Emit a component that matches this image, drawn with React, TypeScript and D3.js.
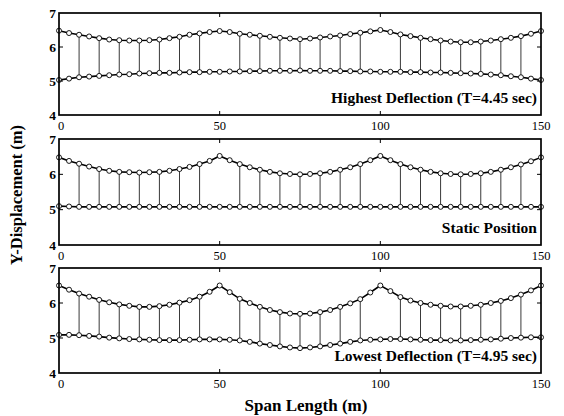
import React from "react";
import * as d3 from "d3";

// Span positions: every 3.125 m from 0 to 150 (49 nodes)
const spanStep = 3.125;
const nodeCount = 49;
const xTicks = [0, 50, 100, 150];
const yTicks = [4, 5, 6, 7];
const hangerIdx = [2, 4, 6, 8, 10, 12, 14, 18, 20, 22, 24, 26, 28, 30, 34, 36, 38, 40, 42, 44, 46];

const highCable = [6.48, 6.41, 6.36, 6.31, 6.26, 6.22, 6.20, 6.19, 6.19, 6.20, 6.22, 6.26, 6.30, 6.36, 6.40, 6.44, 6.47,
  6.44, 6.39, 6.36, 6.33, 6.30, 6.27, 6.25, 6.23, 6.25, 6.28, 6.31, 6.34, 6.38, 6.42, 6.46, 6.50,
  6.44, 6.37, 6.32, 6.27, 6.23, 6.19, 6.16, 6.14, 6.14, 6.16, 6.19, 6.23, 6.27, 6.32, 6.39, 6.47];
const highDeck = [5.03, 5.07, 5.11, 5.13, 5.15, 5.17, 5.19, 5.20, 5.22, 5.23, 5.24, 5.24, 5.25, 5.26, 5.26, 5.27, 5.27,
  5.28, 5.28, 5.29, 5.29, 5.30, 5.30, 5.30, 5.31, 5.30, 5.30, 5.30, 5.29, 5.29, 5.28, 5.28, 5.27,
  5.27, 5.27, 5.26, 5.26, 5.25, 5.25, 5.24, 5.23, 5.22, 5.21, 5.19, 5.17, 5.14, 5.11, 5.07, 5.03];

const staticCable = [6.48, 6.38, 6.30, 6.22, 6.15, 6.10, 6.07, 6.06, 6.05, 6.06, 6.07, 6.10, 6.15, 6.21, 6.29, 6.38, 6.52,
  6.40, 6.29, 6.20, 6.13, 6.07, 6.03, 6.01, 6.00, 6.01, 6.03, 6.07, 6.13, 6.20, 6.29, 6.40, 6.52,
  6.40, 6.29, 6.20, 6.13, 6.07, 6.03, 6.01, 6.00, 6.01, 6.03, 6.07, 6.13, 6.20, 6.28, 6.37, 6.48];
const staticDeck = [5.10, 5.09, 5.08, 5.08, 5.08, 5.08, 5.08, 5.08, 5.08, 5.08, 5.08, 5.08, 5.08, 5.08, 5.08, 5.08, 5.08,
  5.08, 5.08, 5.08, 5.08, 5.08, 5.08, 5.08, 5.08, 5.08, 5.08, 5.08, 5.08, 5.08, 5.08, 5.08, 5.08,
  5.08, 5.08, 5.08, 5.08, 5.08, 5.08, 5.08, 5.08, 5.08, 5.08, 5.08, 5.08, 5.08, 5.08, 5.08, 5.08];

const lowCable = [6.50, 6.38, 6.27, 6.18, 6.09, 6.02, 5.96, 5.92, 5.89, 5.89, 5.91, 5.95, 6.01, 6.08, 6.18, 6.32, 6.50,
  6.31, 6.12, 6.00, 5.89, 5.80, 5.74, 5.70, 5.69, 5.70, 5.74, 5.80, 5.89, 5.99, 6.11, 6.30, 6.50,
  6.34, 6.17, 6.07, 6.00, 5.95, 5.92, 5.90, 5.90, 5.92, 5.95, 6.00, 6.06, 6.14, 6.24, 6.36, 6.50];
const lowDeck = [5.09, 5.09, 5.08, 5.06, 5.04, 5.01, 4.99, 4.97, 4.96, 4.95, 4.94, 4.94, 4.94, 4.95, 4.96, 4.96, 4.96,
  4.95, 4.93, 4.89, 4.84, 4.80, 4.76, 4.73, 4.71, 4.73, 4.76, 4.80, 4.84, 4.89, 4.93, 4.95, 4.96,
  4.97, 4.97, 4.96, 4.95, 4.94, 4.94, 4.93, 4.93, 4.94, 4.95, 4.96, 4.98, 5.00, 5.01, 5.02, 5.02];

const panelTitles = ["Highest Deflection (T=4.45 sec)", "Static Position", "Lowest Deflection (T=4.95 sec)"];

const panels = [
  { title: panelTitles[0], cable: highCable, deck: highDeck, top: 13, bottom: 115 },
  { title: panelTitles[1], cable: staticCable, deck: staticDeck, top: 139, bottom: 245 },
  { title: panelTitles[2], cable: lowCable, deck: lowDeck, top: 268, bottom: 373 },
];

const FONT = "'Liberation Serif', 'Times New Roman', serif";

const x = d3.scaleLinear().domain([0, 150]).range([59, 541]);

function Panel({ p }: { p: typeof panels[number] }) {
  const y = d3.scaleLinear().domain([4, 7]).range([p.bottom, p.top]);
  const xs = d3.range(nodeCount).map((i) => i * spanStep);
  const line = d3.line<number>().x((_, i) => x(xs[i])).y((v) => y(v));
  const [x0, x1] = x.range();
  return (
    <g>
      {hangerIdx.map((i) => (
        <line key={"h" + i} x1={x(xs[i])} x2={x(xs[i])} y1={y(p.cable[i])} y2={y(p.deck[i])} stroke="#222" strokeWidth={0.9} />
      ))}
      <path d={line(p.cable) || ""} fill="none" stroke="#000" strokeWidth={1.6} />
      <path d={line(p.deck) || ""} fill="none" stroke="#000" strokeWidth={1.6} />
      {p.cable.map((v, i) => (
        <circle key={"c" + i} cx={x(xs[i])} cy={y(v)} r={2.5} fill="#fff" stroke="#000" strokeWidth={0.9} />
      ))}
      {p.deck.map((v, i) => (
        <circle key={"d" + i} cx={x(xs[i])} cy={y(v)} r={2.5} fill="#fff" stroke="#000" strokeWidth={0.9} />
      ))}
      <rect x={x0} y={p.top} width={x1 - x0} height={p.bottom - p.top} fill="none" stroke="#000" strokeWidth={1.7} />
      {[5, 6].map((t) => (
        <g key={"yt" + t}>
          <line x1={x0} x2={x0 + 4} y1={y(t)} y2={y(t)} stroke="#000" strokeWidth={1} />
          <line x1={x1} x2={x1 - 4} y1={y(t)} y2={y(t)} stroke="#000" strokeWidth={1} />
        </g>
      ))}
      {[50, 100].map((t) => (
        <g key={"xt" + t}>
          <line x1={x(t)} x2={x(t)} y1={p.top} y2={p.top + 4} stroke="#000" strokeWidth={1} />
          <line x1={x(t)} x2={x(t)} y1={p.bottom} y2={p.bottom - 4} stroke="#000" strokeWidth={1} />
        </g>
      ))}
      {yTicks.map((t) => (
        <text key={"yl" + t} x={x0 - 3} y={y(t) + 4.5} textAnchor="end" fontFamily={FONT} fontSize={13.5} fontWeight="bold">{t}</text>
      ))}
      {xTicks.map((t) => (
        <text key={"xl" + t} x={x(t) + (t === 0 ? 2 : 0)} y={p.bottom + 15} textAnchor="middle" fontFamily={FONT} fontSize={12.5}>{t}</text>
      ))}
      <text x={x1 - 4} y={p.bottom - 12} textAnchor="end" fontFamily={FONT} fontSize={15.5} fontWeight="bold">{p.title}</text>
    </g>
  );
}

export default function App() {
  return (
    <svg width={564} height={416} style={{ display: "block", position: "absolute", left: 0, top: 0, background: "#fff" }}>
      <rect x={0} y={0} width={564} height={416} fill="#fff" />
      {panels.map((p, i) => (
        <Panel key={i} p={p} />
      ))}
      <text transform="translate(22,195) rotate(-90)" textAnchor="middle" fontFamily={FONT} fontSize={16.5} fontWeight="bold">Y-Displacement (m)</text>
      <text x={306} y={411} textAnchor="middle" fontFamily={FONT} fontSize={17} fontWeight="bold">Span Length (m)</text>
    </svg>
  );
}
